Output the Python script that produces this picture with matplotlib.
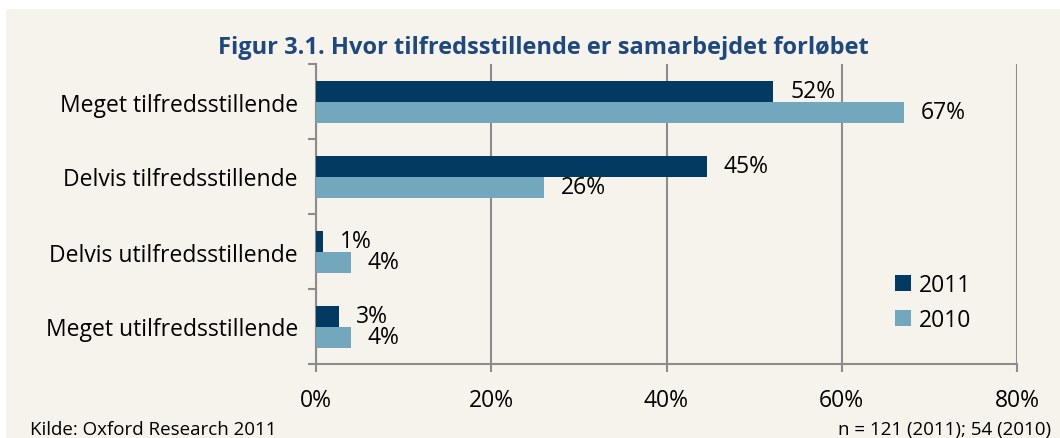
import numpy as np
import matplotlib
matplotlib.use("Agg")
import matplotlib.pyplot as plt
from matplotlib.patches import Rectangle

plt.rcParams['font.family'] = ['Open Sans', 'DejaVu Sans']

categories = ["Meget tilfredsstillende", "Delvis tilfredsstillende",
              "Delvis utilfredsstillende", "Meget utilfredsstillende"]
vals_2011 = [52.2, 44.6, 0.8, 2.6]
vals_2010 = [67.1, 26.0, 4.0, 4.0]
labels_2011 = ["52%", "45%", "1%", "3%"]
labels_2010 = ["67%", "26%", "4%", "4%"]
xticks = [0, 20, 40, 60, 80]

dark = "#023A62"
light = "#72A7BE"
bg = "#F6F2EC"
grid = "#8C8C8C"
fs = 16.5

fig = plt.figure(figsize=(10.6, 4.39), dpi=100)
fig.patch.set_facecolor("white")
fig.patches.append(Rectangle((6 / 1060, 0), 1, 1 - 10 / 439, transform=fig.transFigure,
                             facecolor=bg, edgecolor="none", zorder=-10))

ax = fig.add_axes([316 / 1060, 1 - 365 / 439, 701 / 1060, 300 / 439])
ax.set_facecolor("none")

y = np.arange(len(categories))
h = 0.28
b1 = ax.barh(y - h / 2, vals_2011, height=h, color=dark, label="2011", zorder=3)
b2 = ax.barh(y + h / 2, vals_2010, height=h, color=light, label="2010", zorder=3)

for bars, labs in [(b1, labels_2011), (b2, labels_2010)]:
    for bar, lab in zip(bars, labs):
        ax.annotate(lab, (bar.get_width(), bar.get_y() + bar.get_height() / 2),
                    xytext=(12, 0), textcoords="offset points",
                    va="center", ha="left", fontsize=fs, color="black")

ax.set_xlim(0, 80)
ax.set_ylim(len(categories) - 0.5, -0.5)
ax.set_xticks(xticks)
ax.set_xticklabels([f"{t}%" for t in xticks], fontsize=fs)
ax.xaxis.grid(True, color=grid, linewidth=1.5, zorder=0)
ax.tick_params(axis="x", direction="out", length=6, width=1.5, color=grid, pad=11)

ax.set_yticks(np.arange(len(categories) + 1) - 0.5)
ax.set_yticklabels([])
ax.set_yticks(y, minor=True)
ax.set_yticklabels(categories, minor=True, fontsize=fs)
ax.tick_params(axis="y", which="major", direction="out", length=6, width=1.5, color=grid)
ax.tick_params(axis="y", which="minor", length=0, pad=13)

for s in ["top", "right"]:
    ax.spines[s].set_visible(False)
for s in ["left", "bottom"]:
    ax.spines[s].set_color(grid)
    ax.spines[s].set_linewidth(1.5)

ax.legend(loc="center left", bbox_to_anchor=(0.81, 0.205), frameon=False, fontsize=fs,
          handlelength=0.7, handleheight=0.7, handletextpad=0.35, labelspacing=0.5,
          borderpad=0)

fig.text(543 / 1060, 1 - 48 / 439, "Figur 3.1. Hvor tilfredsstillende er samarbejdet forløbet",
         ha="center", va="center", fontsize=17, fontweight="bold", color="#1F497D")
fig.text(30 / 1060, 1 - 430 / 439, "Kilde: Oxford Research 2011", ha="left", va="center",
         fontsize=13.5)
fig.text(1051 / 1060, 1 - 430 / 439, "n = 121 (2011); 54 (2010)", ha="right", va="center",
         fontsize=13.5)

fig.savefig("out.png", dpi=100, facecolor=fig.get_facecolor())
